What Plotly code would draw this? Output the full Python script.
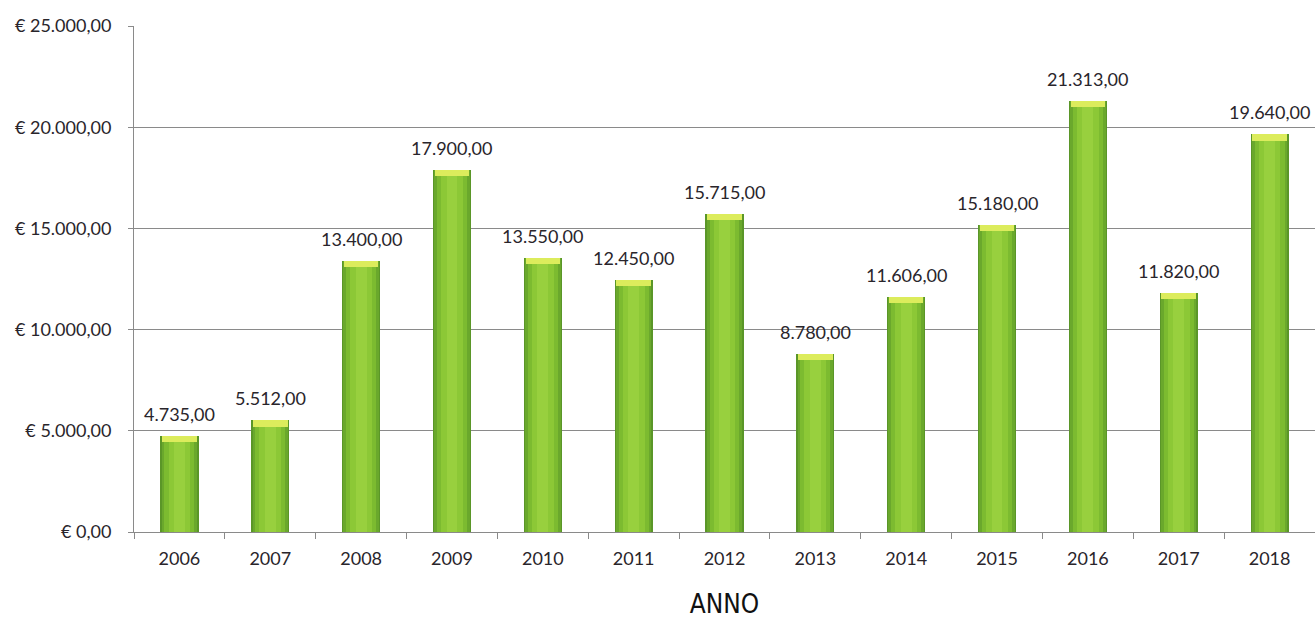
import plotly.graph_objects as go

years = ["2006", "2007", "2008", "2009", "2010", "2011", "2012",
         "2013", "2014", "2015", "2016", "2017", "2018"]
values = [4735, 5512, 13400, 17900, 13550, 12450, 15715,
          8780, 11606, 15180, 21313, 11820, 19640]
y_ticks = [0, 5000, 10000, 15000, 20000, 25000]
y_tick_labels = ["€ 0,00", "€ 5.000,00", "€ 10.000,00",
                 "€ 15.000,00", "€ 20.000,00", "€ 25.000,00"]
x_title = "ANNO"


def fmt_it(v):
    s = f"{v:,.2f}"
    return s.replace(",", "X").replace(".", ",").replace("X", ".")


labels = [fmt_it(v) for v in values]

FONT = "Lato, 'Open Sans', 'DejaVu Sans', sans-serif"
TXT = "#29252b"

fig = go.Figure()

# layered bars to suggest the cylinder shading
layers = [
    (0.42, "#5a9628"),
    (0.39, "#6aa82c"),
    (0.33, "#7cbb30"),
    (0.24, "#8cc836"),
    (0.12, "#98d03e"),
]
for w, c in layers:
    fig.add_trace(go.Bar(
        x=years, y=values, width=w,
        marker=dict(color=c, line=dict(width=0)),
        hoverinfo="skip", showlegend=False,
    ))

# yellowish cap on top of each bar
cap = 300
fig.add_trace(go.Bar(
    x=years, y=[cap] * len(values), base=[v - cap for v in values],
    width=0.38,
    marker=dict(color="#dcec5c", line=dict(width=0)),
    hoverinfo="skip", showlegend=False,
))

# value labels (x given as category index so the axis stays categorical)
for i, (v, t) in enumerate(zip(values, labels)):
    fig.add_annotation(
        x=i, y=v, text=t, showarrow=False,
        yanchor="bottom", yshift=9,
        font=dict(family=FONT, size=18, color=TXT),
    )

fig.update_layout(
    width=1315, height=619,
    margin=dict(l=134, r=0, t=26, b=87),
    paper_bgcolor="white", plot_bgcolor="white",
    barmode="overlay", bargap=0,
    showlegend=False,
    xaxis=dict(
        type="category", automargin=False,
        range=[-0.5, len(years) - 0.5],
        showline=True, linecolor="#8a8a8a", linewidth=1,
        ticks="outside", tickson="boundaries", ticklen=6,
        tickcolor="#8a8a8a",
        ticklabelstandoff=10,
        tickfont=dict(family=FONT, size=18, color=TXT),
        title=dict(text=x_title, standoff=28,
                   font=dict(family="DejaVu Sans Condensed, Liberation Sans Narrow, sans-serif",
                             size=26, color="#111111")),
        showgrid=False,
    ),
    yaxis=dict(
        range=[0, 25000], automargin=False,
        tickvals=y_ticks, ticktext=y_tick_labels,
        showline=True, linecolor="#8a8a8a", linewidth=1,
        ticks="outside", ticklen=5, tickcolor="#8a8a8a",
        showgrid=True, gridcolor="#8a8a8a", gridwidth=1,
        zeroline=False,
        tickfont=dict(family=FONT, size=18, color=TXT),
        ticklabelstandoff=13,
    ),
)

fig.write_html(
    "out.html",
    config={"displayModeBar": False},
    post_script="document.body.style.margin='0';document.body.style.overflow='hidden';",
)
